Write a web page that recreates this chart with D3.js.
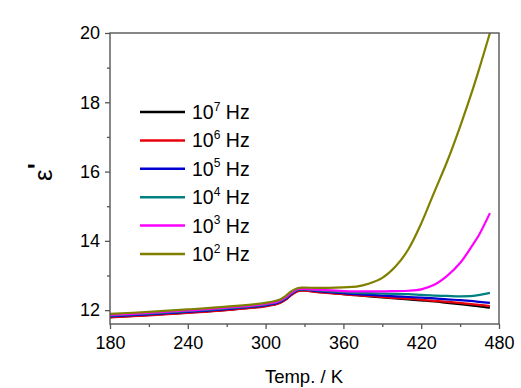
<!DOCTYPE html>
<html>
<head>
<meta charset="utf-8">
<script src="https://cdn.jsdelivr.net/npm/d3@7/dist/d3.min.js"></script>
<style>
  html, body { margin: 0; padding: 0; background: #fff; }
  svg { display: block; }
  text { font-family: Arial, "Liberation Sans", sans-serif; fill: #000; }
</style>
</head>
<body>
<svg id="chart" width="521" height="388"></svg>
<script>
// Temperature grid (K)
const temps = [180, 210, 240, 270, 300, 310, 315, 320, 325, 330, 340, 360, 370, 380, 390, 400, 410, 420, 430, 440, 450, 460, 465, 473];

// Real permittivity at each frequency
const eps1e7 = [11.80, 11.86, 11.93, 12.01, 12.12, 12.20, 12.30, 12.45, 12.56, 12.57, 12.53, 12.46, 12.43, 12.40, 12.37, 12.34, 12.31, 12.28, 12.25, 12.21, 12.17, 12.13, 12.11, 12.07];
const eps1e6 = [11.79, 11.85, 11.92, 12.00, 12.11, 12.19, 12.29, 12.44, 12.55, 12.56, 12.52, 12.46, 12.43, 12.41, 12.38, 12.35, 12.33, 12.30, 12.27, 12.24, 12.21, 12.17, 12.15, 12.12];
const eps1e5 = [11.82, 11.88, 11.95, 12.03, 12.14, 12.22, 12.32, 12.47, 12.58, 12.59, 12.55, 12.49, 12.46, 12.44, 12.42, 12.40, 12.38, 12.36, 12.34, 12.31, 12.29, 12.26, 12.24, 12.21];
const eps1e4 = [11.84, 11.90, 11.97, 12.05, 12.16, 12.24, 12.34, 12.49, 12.59, 12.60, 12.57, 12.52, 12.50, 12.49, 12.48, 12.47, 12.46, 12.44, 12.42, 12.41, 12.40, 12.41, 12.44, 12.50];
const eps1e3 = [11.86, 11.92, 11.99, 12.07, 12.18, 12.26, 12.36, 12.51, 12.61, 12.61, 12.59, 12.55, 12.54, 12.54, 12.54, 12.55, 12.56, 12.60, 12.73, 12.99, 13.36, 13.90, 14.20, 14.80];
const eps1e2 = [11.89, 11.95, 12.02, 12.10, 12.21, 12.29, 12.40, 12.55, 12.64, 12.65, 12.64, 12.66, 12.68, 12.77, 12.93, 13.25, 13.75, 14.50, 15.40, 16.29, 17.30, 18.40, 19.00, 20.00];

const exponents = ["7", "6", "5", "4", "3", "2"];
const colors = ["#000000", "#e8000b", "#0000d0", "#008080", "#ff00ff", "#808000"];
const seriesValues = [eps1e7, eps1e6, eps1e5, eps1e4, eps1e3, eps1e2];

const xTicks = [180, 240, 300, 360, 420, 480];
const yTicks = [12, 14, 16, 18, 20];

const svg = d3.select("#chart");
const plotL = 110, plotR = 499, plotT = 33, plotB = 324;

const x = d3.scaleLinear().domain([180, 480]).range([plotL, plotR]);
const y = d3.scaleLinear().domain([11.6, 20]).range([plotB, plotT]);

const frameColor = "#555";

// Clip for the data lines
svg.append("defs").append("clipPath").attr("id", "plotClip")
  .append("rect").attr("x", plotL).attr("y", plotT)
  .attr("width", plotR - plotL).attr("height", plotB - plotT);

// Bottom axis
const xAxis = svg.append("g").attr("transform", `translate(0,${plotB})`)
  .call(d3.axisBottom(x).tickValues(xTicks).tickSize(5).tickPadding(7).tickFormat(d3.format("d")));
xAxis.select(".domain").remove();
svg.append("g").attr("transform", `translate(0,${plotB})`)
  .call(d3.axisBottom(x).tickValues(d3.range(210, 480, 60)).tickSize(3).tickFormat(""))
  .select(".domain").remove();

// Left axis
const yAxis = svg.append("g").attr("transform", `translate(${plotL},0)`)
  .call(d3.axisLeft(y).tickValues(yTicks).tickSize(5).tickPadding(5).tickFormat(d3.format("d")));
yAxis.select(".domain").remove();
svg.append("g").attr("transform", `translate(${plotL},0)`)
  .call(d3.axisLeft(y).tickValues([13, 15, 17, 19]).tickSize(3).tickFormat(""))
  .select(".domain").remove();

svg.selectAll(".tick line").attr("stroke", frameColor).attr("stroke-width", 1.3);
svg.selectAll(".tick text").style("font-size", "18px").attr("fill", "#000");

// Data lines
const line = d3.line()
  .x((d, i) => x(temps[i]))
  .y(d => y(d))
  .curve(d3.curveCatmullRom.alpha(0.5));

const drawOrder = [0, 1, 2, 3, 4, 5];
svg.append("g").attr("clip-path", "url(#plotClip)")
  .selectAll("path").data(drawOrder).join("path")
  .attr("d", i => line(seriesValues[i]))
  .attr("fill", "none")
  .attr("stroke", i => colors[i])
  .attr("stroke-width", 2.2)
  .attr("stroke-linejoin", "round");

// Frame
svg.append("rect")
  .attr("x", plotL).attr("y", plotT)
  .attr("width", plotR - plotL).attr("height", plotB - plotT)
  .attr("fill", "none").attr("stroke", frameColor).attr("stroke-width", 1.4);

// Legend
const legend = svg.append("g");
const legY0 = 112, legDy = 28.4;
exponents.forEach((e, i) => {
  const ly = legY0 + i * legDy;
  legend.append("line")
    .attr("x1", 140).attr("x2", 185).attr("y1", ly).attr("y2", ly)
    .attr("stroke", colors[i]).attr("stroke-width", 2.5);
  const t = legend.append("text").attr("x", 192).attr("y", ly + 7).style("font-size", "19.5px");
  t.append("tspan").text("10");
  t.append("tspan").attr("dy", -8.5).style("font-size", "12px").text(e);
  t.append("tspan").attr("dy", 8.5).text(" Hz");
});

// Axis titles
svg.append("text")
  .attr("x", 304).attr("y", 383)
  .attr("text-anchor", "middle")
  .style("font-size", "18.5px")
  .text("Temp. / K");

const yt = svg.append("text")
  .attr("transform", "translate(52,172) rotate(-90)")
  .attr("text-anchor", "middle")
  .style("font-size", "26px");
yt.append("tspan").text("ε");
yt.append("tspan").attr("dy", -6).style("font-weight", "bold").text("'");
</script>
</body>
</html>
